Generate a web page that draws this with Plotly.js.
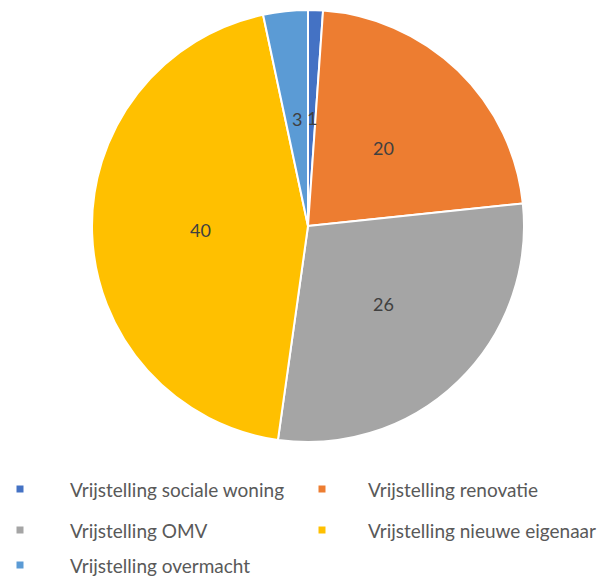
<!DOCTYPE html>
<html>
<head>
<meta charset="utf-8">
<script src="https://cdn.plot.ly/plotly-3.0.1.min.js"></script>
<style>html,body{margin:0;padding:0;background:#fff;}#chart{width:607px;height:578px;}</style>
</head>
<body>
<div id="chart"></div>
<script>
const categories = ["Vrijstelling sociale woning", "Vrijstelling renovatie", "Vrijstelling OMV", "Vrijstelling nieuwe eigenaar", "Vrijstelling overmacht"];
const values = [1, 20, 26, 40, 3];
const colors = ["#4472C4", "#ED7D31", "#A5A5A5", "#FFC000", "#5B9BD5"];

const W = 607, H = 578;
const cx = 308, cy = 226, r = 216;
const FONT = "Lato, 'Liberation Sans', sans-serif";

const trace = {
  type: "pie",
  labels: categories,
  values: values,
  sort: false,
  direction: "clockwise",
  rotation: 0,
  marker: {colors: colors, line: {color: "#ffffff", width: 2}},
  textinfo: "none",
  textposition: "none",
  hoverinfo: "label+value",
  showlegend: false,
  domain: {x: [(cx - r) / W, (cx + r) / W], y: [(H - cy - r) / H, (H - cy + r) / H]}
};

const annotations = [], shapes = [];

// data labels: placed along each slice's bisector at half the radius (derived from values)
const total = values.reduce((a, b) => a + b, 0);
let cum = 0;
values.forEach((v) => {
  const mid = (cum + v / 2) / total * 2 * Math.PI; // clockwise from 12 o'clock
  cum += v;
  const px = cx + 0.5 * r * Math.sin(mid);
  const py = cy - 0.5 * r * Math.cos(mid);
  annotations.push({xref: "paper", yref: "paper", x: px / W, y: (H - py) / H,
    xanchor: "center", yanchor: "middle", text: String(v), showarrow: false,
    font: {family: FONT, size: 18, color: "#404040"}});
});

// custom legend (two columns)
const colX = [20, 322], textX = [69, 367], rowY = [489, 530, 565];
categories.forEach((c, i) => {
  const col = i % 2, row = Math.floor(i / 2);
  const mx = colX[col], my = rowY[row];
  shapes.push({type: "rect", xref: "paper", yref: "paper",
    x0: (mx - 3.5) / W, x1: (mx + 3.5) / W, y0: (H - my - 3.5) / H, y1: (H - my + 3.5) / H,
    fillcolor: colors[i], line: {width: 0}});
  annotations.push({xref: "paper", yref: "paper", x: textX[col] / W, y: (H - my) / H,
    xanchor: "left", yanchor: "middle", text: c, showarrow: false, borderpad: 0,
    font: {family: FONT, size: 19, color: "#595959"}});
});

const layout = {
  width: W, height: H,
  margin: {l: 0, r: 0, t: 0, b: 0},
  paper_bgcolor: "#ffffff",
  showlegend: false,
  shapes: shapes,
  annotations: annotations
};

Plotly.newPlot("chart", [trace], layout, {displayModeBar: false, staticPlot: true});
</script>
</body>
</html>
